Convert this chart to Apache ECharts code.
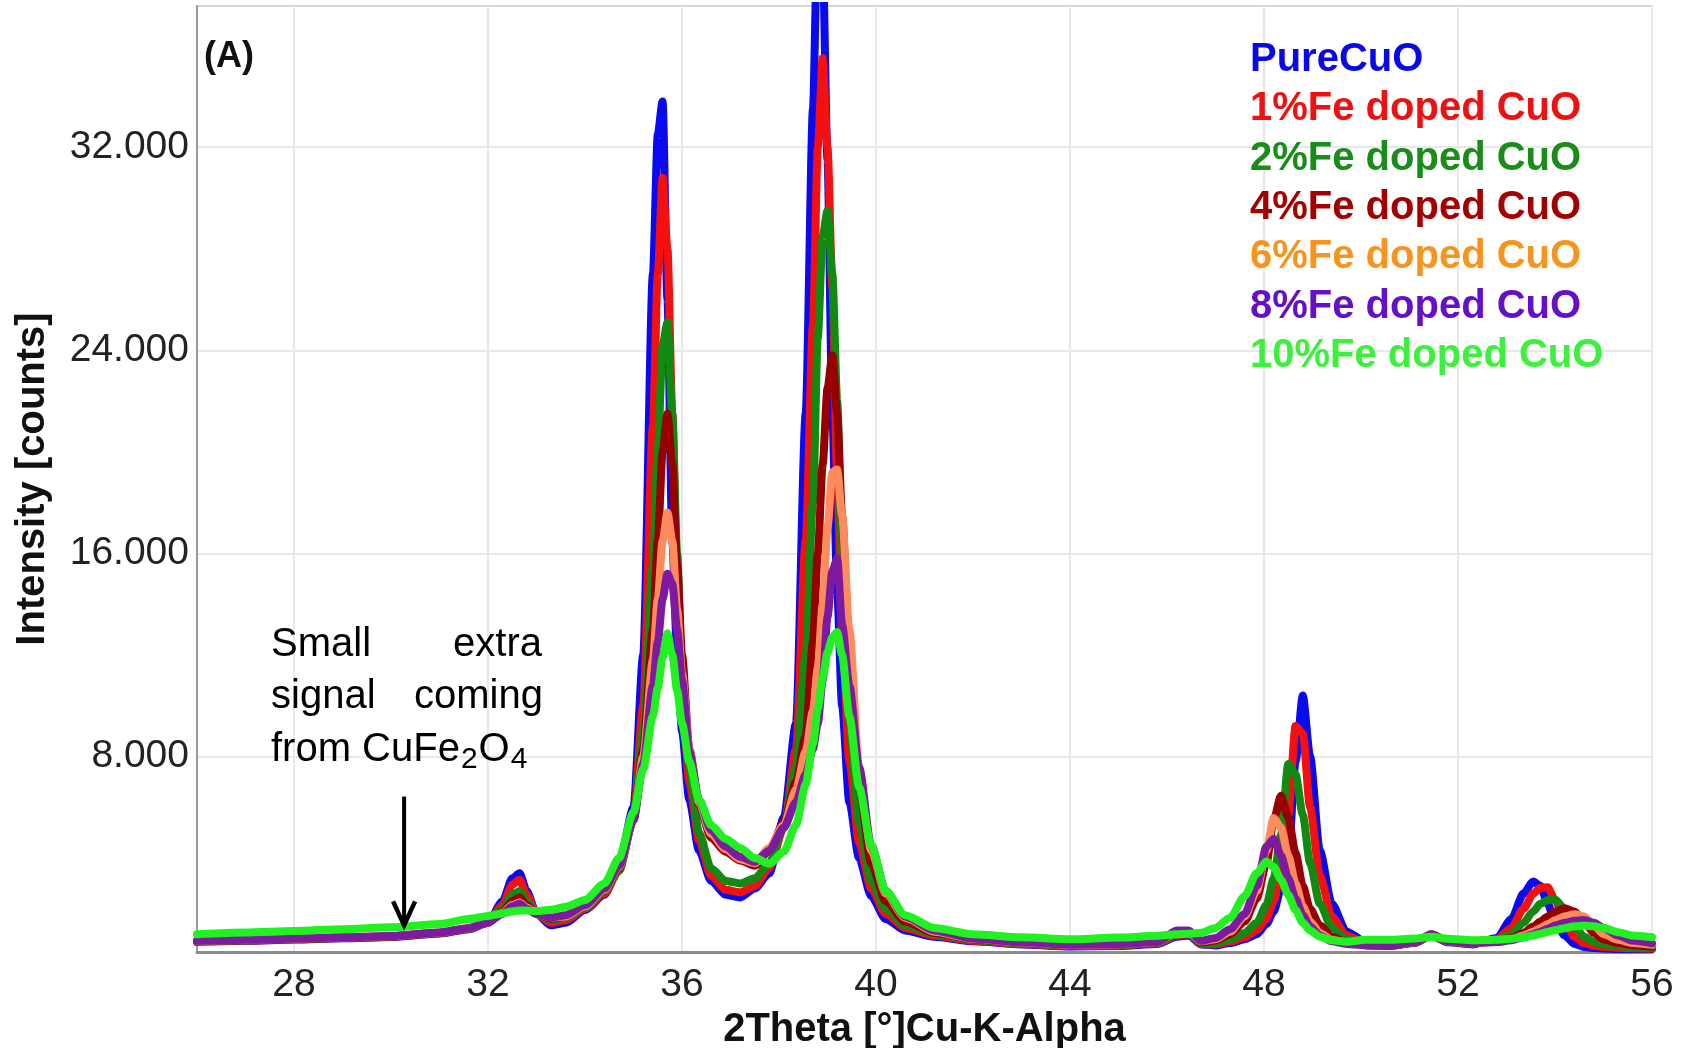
<!DOCTYPE html>
<html>
<head>
<meta charset="utf-8">
<title>XRD - Fe doped CuO</title>
<script src="https://cdn.jsdelivr.net/npm/echarts@6/dist/echarts.min.js"></script>
<style>
html, body { margin: 0; padding: 0; background: #fff; }
#main { width: 1690px; height: 1048px; }
</style>
</head>
<body>
<div id="main"></div>
<script>
// 2Theta positions [deg], shared by every scan
var twoTheta = [
  26, 27, 28, 29, 30, 31, 31.6,
  32, 32.3, 32.5, 32.65, 32.8, 33, 33.3, 33.6,
  34, 34.4, 34.7, 35, 35.2, 35.4, 35.5, 35.6, 35.7, 35.8, 35.9,
  36, 36.15, 36.35, 36.6, 36.9, 37.2, 37.5, 37.8,
  38.1, 38.35, 38.55, 38.7, 38.8, 38.9, 39, 39.1, 39.2, 39.3, 39.45, 39.65, 39.9,
  40.2, 40.6, 41.2, 42, 43, 44, 45, 45.8, 46.2, 46.45, 46.7,
  47, 47.3, 47.6, 47.85, 48.05, 48.2, 48.35, 48.5, 48.65, 48.8, 48.95, 49.15, 49.4, 49.7,
  50.1, 50.6, 51.1, 51.45, 51.8, 52.3, 52.8,
  53.1, 53.35, 53.55, 53.7, 53.85, 54, 54.2, 54.4, 54.6, 54.8, 55, 55.3, 55.6, 56
];

// intensity [counts]
var pureCuO = [
  700, 740, 790, 840, 890, 1030, 1200,
  1450, 2300, 3200, 3400, 2700, 1800, 1350, 1450,
  1950, 2550, 3700, 6000, 12000, 27000, 32500, 33800, 26000, 16500, 12000,
  9000, 6300, 4300, 3100, 2550, 2450, 2800, 3400,
  5600, 9300, 21500, 33500, 41000, 39500, 31500, 21500, 14500, 10000, 6200, 4000, 2500,
  1600, 1150, 900, 720, 600, 520, 540, 620, 900, 950, 600,
  560, 650, 800, 1000, 1400, 1900, 2800, 4000, 7800, 10400, 8000, 4300, 2200, 1100,
  700, 560, 650, 950, 680, 600, 850,
  1600, 2600, 3080, 2900, 2200, 1500, 950, 620, 500, 460, 440, 420, 420, 420
];
var fe1 = [
  710, 750, 800, 850, 900, 1040, 1210,
  1450, 2150, 2950, 3150, 2550, 1800, 1450, 1550,
  2000, 2600, 3500, 5600, 10000, 21000, 27000, 30800, 28000, 21500, 14500,
  10500, 7000, 4700, 3300, 2750, 2650, 2900, 3600,
  5200, 8300, 16500, 25000, 32000, 35500, 32000, 26500, 19000, 13000, 7800, 4600, 2800,
  1800, 1250, 950, 740, 620, 540, 560, 640, 950, 1000, 620,
  600, 700, 880, 1150, 1600, 2300, 3500, 5700, 9200, 8900, 6000, 3300, 1700, 950,
  650, 560, 660, 960, 690, 620, 800,
  1250, 2000, 2600, 2830, 2850, 2350, 1500, 900, 650, 550, 500, 470, 450, 440
];
var fe2 = [
  720, 760, 810, 860, 910, 1050, 1220,
  1450, 2000, 2550, 2700, 2300, 1800, 1550, 1650,
  2050, 2700, 3500, 5500, 9000, 15500, 20000, 24200, 25100, 21500, 16000,
  11000, 7600, 5000, 3600, 3100, 3000, 3200, 3800,
  5300, 7600, 12000, 18000, 24500, 28500, 29500, 27000, 22000, 15500, 9500, 5400, 3100,
  2000, 1350, 1000, 770, 640, 550, 570, 650, 1000, 1050, 650,
  650, 780, 1050, 1450, 2150, 3200, 4900, 7700, 7300, 5700, 3800, 2200, 1250, 800,
  620, 560, 670, 980, 700, 640, 760,
  1000, 1450, 1900, 2200, 2350, 2370, 2000, 1350, 900, 700, 600, 540, 500, 480
];
var fe4 = [
  730, 770, 820, 870, 920, 1060, 1230,
  1450, 1900, 2300, 2450, 2150, 1800, 1600, 1700,
  2100, 2750, 3600, 5500, 8300, 13000, 16500, 20000, 21500, 19500, 15500,
  12000, 8300, 6100, 4800, 4250, 3900, 3700, 4300,
  5400, 7000, 8800, 12500, 16000, 19500, 22500, 23800, 21500, 17500, 12000, 6800, 3800,
  2300, 1500, 1050, 800, 660, 570, 590, 670, 1100, 1100, 680,
  750, 1000, 1500, 2400, 3800, 5500, 6450, 5600, 4200, 2900, 2000, 1350, 900, 680,
  580, 540, 670, 1000, 710, 650, 720,
  850, 1050, 1300, 1500, 1700, 1880, 2020, 1900, 1500, 1050, 800, 650, 570, 520
];
var fe6 = [
  740, 780, 830, 880, 930, 1070, 1240,
  1460, 1850, 2150, 2250, 2050, 1800, 1650, 1700,
  2100, 2750, 3650, 5500, 8000, 11800, 14200, 16500, 17600, 16500, 13800,
  11300, 8300, 6200, 4950, 4350, 3950, 3800, 4400,
  5300, 6700, 8200, 9800, 11500, 14000, 17000, 19200, 19300, 17500, 13000, 7500, 4300,
  2600, 1650, 1100, 820, 670, 580, 600, 680, 1100, 1100, 720,
  800, 1100, 1700, 2700, 4300, 5580, 5200, 4100, 3000, 2100, 1500, 1050, 780, 640,
  570, 540, 680, 1000, 720, 650, 700,
  800, 950, 1100, 1250, 1400, 1550, 1700, 1790, 1700, 1350, 1000, 780, 650, 580
];
var fe8 = [
  740, 780, 830, 880, 930, 1070, 1240,
  1460, 1800, 2100, 2200, 2000, 1800, 1650, 1750,
  2150, 2800, 3700, 5500, 7700, 10800, 12500, 14200, 15200, 14800, 13000,
  11000, 8200, 6300, 5100, 4450, 4050, 3850, 4300,
  5200, 6200, 7300, 8300, 9300, 11000, 13500, 15300, 15800, 13200, 10800, 7600, 4500,
  2700, 1700, 1150, 830, 680, 590, 610, 690, 1150, 1150, 740,
  850, 1200, 1800, 2900, 4450, 4750, 4100, 3200, 2400, 1750, 1300, 950, 720, 620,
  560, 540, 680, 1000, 720, 650, 690,
  760, 880, 1000, 1100, 1220, 1340, 1450, 1530, 1560, 1450, 1250, 950, 750, 640
];
var fe10 = [
  1000, 1070, 1130, 1200, 1270, 1400, 1600,
  1720, 1820, 1900, 1930, 1930, 1910, 1960, 2080,
  2350, 3000, 4000, 5800, 7500, 9600, 10700, 11900, 12850, 12000, 10600,
  9300, 7800, 6300, 5300, 4750, 4400, 4000, 3780,
  4250, 5300, 6900, 8500, 9900, 11100, 12100, 12700, 12900, 12000, 9600, 6800, 4500,
  2700, 1750, 1250, 1000, 880, 800, 870, 940, 1000, 1020, 1060,
  1250, 1650, 2500, 3400, 3860, 3650, 3150, 2550, 1950, 1450, 1150, 900, 760, 700,
  780, 780, 830, 900, 820, 760, 780,
  820, 880, 950, 1020, 1090, 1160, 1240, 1310, 1340, 1310, 1250, 1080, 950, 880
];

var xTicks = [28, 32, 36, 40, 44, 48, 52, 56];
var yTicks = [8000, 16000, 24000, 32000];

var names = ['PureCuO', '1%Fe doped CuO', '2%Fe doped CuO', '4%Fe doped CuO',
             '6%Fe doped CuO', '8%Fe doped CuO', '10%Fe doped CuO'];
var scans = [pureCuO, fe1, fe2, fe4, fe6, fe8, fe10];
var lineColors = ['#0a0aee', '#f41010', '#128a12', '#960000', '#ff8a5c', '#7c1aa0', '#22f022'];
var textColors = ['#0808e8', '#ee1111', '#1a8c1a', '#a30000', '#f7941d', '#6410c8', '#3df03d'];

var FONT = '"Liberation Sans", Arial, Helvetica, sans-serif';

function pairs(values) {
  return twoTheta.map(function (x, i) { return [x, values[i]]; });
}

// text width helper for placing the subscripts
var measureCtx = document.createElement('canvas').getContext('2d');
function textWidth(str, size) {
  measureCtx.font = size + 'px ' + FONT;
  return measureCtx.measureText(str).width;
}

var chart = echarts.init(document.getElementById('main'));

var series = scans.map(function (v, i) {
  return {
    name: names[i],
    type: 'line',
    data: pairs(v),
    showSymbol: false,
    smooth: 0.25,
    smoothMonotone: 'x',
    clip: true,
    itemStyle: { color: lineColors[i] },
    lineStyle: { width: 8, color: lineColors[i], cap: 'round', join: 'round' }
  };
});

chart.setOption({
  animation: false,
  backgroundColor: '#fff',
  textStyle: { fontFamily: FONT },
  grid: {
    left: 197, right: 38, top: 6, bottom: 96,
    outerBoundsMode: 'none',
    show: true, borderColor: '#d6d6d6', borderWidth: 2
  },
  legend: {
    orient: 'vertical',
    left: 1245, top: 38,
    padding: 0,
    itemGap: 5.3,
    itemWidth: 0, itemHeight: 44,
    icon: 'rect',
    itemStyle: { opacity: 0 },
    lineStyle: { opacity: 0 },
    selectedMode: false,
    textStyle: { fontSize: 40, fontWeight: 'bold', fontFamily: FONT, lineHeight: 44 },
    data: names.map(function (n, i) {
      return { name: n, textStyle: { color: textColors[i] } };
    })
  },
  xAxis: {
    type: 'value',
    min: 26, max: 56,
    name: '2Theta [°]Cu-K-Alpha',
    nameLocation: 'middle',
    nameGap: 48,
    nameTextStyle: { fontSize: 40, fontWeight: 'bold', color: '#111', fontFamily: FONT },
    axisLine: { lineStyle: { color: '#8c8c8c', width: 3 } },
    axisTick: { show: false, customValues: xTicks },
    axisLabel: { customValues: xTicks, fontSize: 39, color: '#222', margin: 14 },
    splitLine: { show: true, lineStyle: { color: '#e8e8e8', width: 2 } }
  },
  yAxis: {
    type: 'value',
    min: 300, max: 37560,
    name: 'Intensity [counts]',
    nameLocation: 'middle',
    nameGap: 144,
    nameTextStyle: { fontSize: 40, fontWeight: 'bold', color: '#111', fontFamily: FONT },
    axisLine: { show: true, lineStyle: { color: '#9a9a9a', width: 2 } },
    axisTick: { show: false, customValues: yTicks },
    axisLabel: {
      customValues: yTicks, fontSize: 39, color: '#222', margin: 8,
      formatter: function (v) { return (v / 1000).toFixed(3); }
    },
    splitLine: { show: true, lineStyle: { color: '#e8e8e8', width: 2 } }
  },
  series: series
});

// arrow pointing at the small CuFe2O4 signal, placed in data space
var arrowTop = chart.convertToPixel({ gridIndex: 0 }, [30.27, 6420]);
var arrowTip = chart.convertToPixel({ gridIndex: 0 }, [30.27, 1350]);

// third annotation line: "from CuFe" + sub 2 + "O" + sub 4
var lineX = 271, lineY = 750, subY = 760;
var xSub2 = lineX + textWidth('from CuFe', 40) + 1;
var xO = xSub2 + textWidth('2', 30) + 1;
var xSub4 = xO + textWidth('O', 40) + 1;

function plain(text, x, y, size, align) {
  return {
    type: 'text', x: x, y: y, z: 100,
    style: { text: text, fontSize: size, fontFamily: FONT, fill: '#000', align: align || 'left', verticalAlign: 'middle' }
  };
}

chart.setOption({
  graphic: [
    {
      type: 'text', x: 204, y: 57, z: 100,
      style: { text: '(A)', fontSize: 36, fontWeight: 'bold', fontFamily: FONT, fill: '#111', verticalAlign: 'middle' }
    },
    plain('Small', 271, 645, 40),
    plain('extra', 542, 645, 40, 'right'),
    plain('signal', 271, 697, 40),
    plain('coming', 543, 697, 40, 'right'),
    plain('from CuFe', lineX, lineY, 40),
    plain('2', xSub2, subY, 30),
    plain('O', xO, lineY, 40),
    plain('4', xSub4, subY, 30),
    {
      type: 'line', z: 100,
      shape: { x1: arrowTop[0], y1: arrowTop[1], x2: arrowTip[0], y2: arrowTip[1] - 3 },
      style: { stroke: '#000', lineWidth: 4 }
    },
    {
      type: 'polyline', z: 100,
      shape: { points: [[arrowTip[0] - 11, arrowTip[1] - 24], [arrowTip[0], arrowTip[1]], [arrowTip[0] + 11, arrowTip[1] - 24]] },
      style: { stroke: '#000', lineWidth: 4.5, fill: null, lineJoin: 'miter' }
    }
  ]
});
</script>
</body>
</html>
